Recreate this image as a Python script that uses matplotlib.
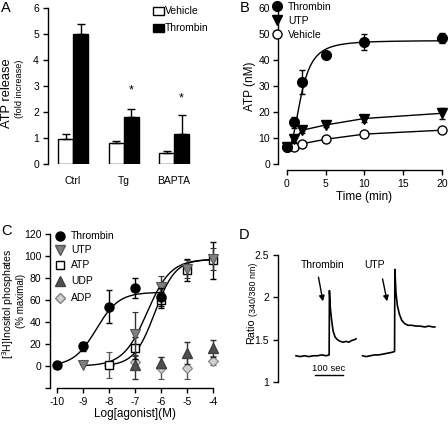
import numpy as np
import matplotlib
matplotlib.use("Agg")
import matplotlib.pyplot as plt
from matplotlib.patches import Rectangle

plt.rcParams['font.family'] = ['Liberation Sans', 'DejaVu Sans']
plt.rcParams['axes.linewidth'] = 1.0
plt.rcParams['axes.unicode_minus'] = False

W, H = 448, 424
fig = plt.figure(figsize=(W / 100, H / 100), dpi=100)


def ax_px(x0, x1, ytop, ybot):
    return fig.add_axes([x0 / W, 1 - ybot / H, (x1 - x0) / W, (ybot - ytop) / H])


def fx(x):
    return x / W


def fy(y):
    return 1 - y / H


TICK_FS = 7.5
LAB_FS = 8.5

# ---------------- Panel A data ----------------
a_groups = ["Ctrl", "Tg", "BAPTA"]
a_vehicle = [0.93, 0.78, 0.40]
a_vehicle_err = [0.22, 0.08, 0.08]
a_thrombin = [5.0, 1.78, 1.15]
a_thrombin_err = [0.40, 0.32, 0.72]
a_star_y = [None, 2.8, 2.5]

# ---------------- Panel B data ----------------
b_time = [0, 1, 2, 5, 10, 20]
b_thrombin = [6.5, 16.0, 31.5, 42.0, 47.0, 48.5]
b_thrombin_err = [0.5, 2.0, 4.5, 0.8, 3.0, 2.0]
b_utp = [6.5, 9.5, 13.0, 15.0, 17.5, 19.5]
b_utp_err = [0.5, 1.0, 1.0, 0.8, 1.5, 2.0]
b_vehicle = [6.5, 6.5, 7.8, 9.5, 11.5, 13.0]
b_vehicle_err = [0.3, 0.3, 0.3, 0.3, 0.5, 0.5]
# fitted curve parameters (Hill) for thrombin
b_fit_bottom, b_fit_top, b_fit_t50, b_fit_n = 6.0, 47.5, 1.9, 2.5

# ---------------- Panel C data ----------------
c_thr_x = [-10, -9, -8, -7, -6]
c_thr_y = [1, 18, 54, 71, 63]
c_thr_e = [1, 4, 15, 9, 8]
c_utp_x = [-9, -7, -6, -5, -4]
c_utp_y = [1, 29, 72, 88, 97]
c_utp_e = [0.5, 20, 10, 8, 10]
c_atp_x = [-8, -7, -6, -5, -4]
c_atp_y = [1, 16, 60, 87, 96]
c_atp_e = [3, 10, 7, 10, 17]
c_udp_x = [-7, -6, -5, -4]
c_udp_y = [1, 3, 12, 16]
c_udp_e = [13, 5, 10, 8]
c_adp_x = [-8, -7, -6, -5, -4]
c_adp_y = [1, 4, -2, -2, 5]
c_adp_e = [12, 6, 10, 10, 4]
# fitted sigmoid parameters (bottom, top, logEC50, hill, x range)
c_fit_thr = (0, 67, -8.5, 1.0, -10, -6)
c_fit_utp = (0, 97, -6.55, 0.95, -9, -4)
c_fit_atp = (0, 97, -6.25, 1.1, -8, -4)

# ---------------- Panel D data ----------------
d_thr_t = [0, 15, 30, 45, 60, 75, 90, 105, 116, 117, 120, 125, 130, 137, 145, 155, 165, 175, 185, 195, 205, 210]
d_thr_r = [1.31, 1.30, 1.31, 1.30, 1.31, 1.31, 1.32, 1.31, 1.32, 2.08, 1.88, 1.72, 1.60, 1.53, 1.50, 1.48, 1.47, 1.48, 1.47, 1.49, 1.50, 1.51]
d_utp_t = [233, 245, 260, 275, 290, 305, 320, 335, 345, 346, 350, 355, 362, 370, 380, 392, 405, 420, 435, 450, 465, 480, 486]
d_utp_r = [1.31, 1.30, 1.31, 1.32, 1.32, 1.33, 1.34, 1.35, 1.36, 2.33, 2.05, 1.90, 1.80, 1.73, 1.69, 1.67, 1.67, 1.66, 1.66, 1.65, 1.66, 1.65, 1.65]

# ================= Panel A =================
axA = ax_px(48, 200, 8, 163.5)
xpx = 50.5
bw = 15 / xpx
xs = np.arange(len(a_groups))
ekA = dict(ecolor='black', capsize=3, elinewidth=1.0, capthick=1.0)
axA.bar(xs - bw / 2, a_vehicle, bw, color='white', edgecolor='black', linewidth=1.0,
        yerr=[np.zeros(3), a_vehicle_err], error_kw=ekA)
axA.bar(xs + bw / 2, a_thrombin, bw, color='black', edgecolor='black', linewidth=1.0,
        yerr=[np.zeros(3), a_thrombin_err], error_kw=ekA)
for i, s in enumerate(a_star_y):
    if s is not None:
        axA.text(xs[i] + bw / 2, s, '*', ha='center', va='center', fontsize=9)
axA.set_xlim((48 - 73) / xpx, (200 - 73) / xpx)
axA.set_ylim(0, 6)
axA.set_yticks(range(0, 7))
axA.set_xticks(xs)
axA.set_xticklabels(a_groups, fontsize=TICK_FS)
axA.tick_params(axis='x', length=0, pad=9)
axA.tick_params(axis='y', labelsize=TICK_FS, length=3.5, width=1.0, pad=3)
for s in ['top', 'right', 'bottom']:
    axA.spines[s].set_visible(False)
# legend A (manual)
for yy, fc, lab in [(11, 'white', 'Vehicle'), (28, 'black', 'Thrombin')]:
    fig.patches.append(Rectangle((fx(152.5), fy(yy + 4)), 11 / W, 8 / H, facecolor=fc, edgecolor='black',
                                 lw=1.0, transform=fig.transFigure))
    fig.text(fx(165), fy(yy), lab, fontsize=TICK_FS, ha='left', va='center')
fig.text(fx(7.5), fy(93), 'ATP release', rotation=90, ha='center', va='center', fontsize=9.3)
fig.text(fx(19.5), fy(89), '(fold increase)', rotation=90, ha='center', va='center', fontsize=6.6)
fig.text(fx(1), fy(8), 'A', fontsize=10.5, ha='left', va='center')

# ================= Panel B =================
axB = ax_px(286.7, 442, 8, 164)
axB.set_xlim(0, 20)
axB.set_ylim(0, 60)
tt = np.linspace(0, 20, 300)
fit_b = b_fit_bottom + (b_fit_top - b_fit_bottom) * tt ** b_fit_n / (b_fit_t50 ** b_fit_n + tt ** b_fit_n)
axB.plot(tt, fit_b, color='black', lw=1.0, clip_on=False)
axB.plot(b_time, b_utp, color='black', lw=1.0, clip_on=False)
axB.plot(b_time, b_vehicle, color='black', lw=1.0, clip_on=False)
ekw = dict(capsize=2.5, elinewidth=1.0, capthick=1.0, ecolor='black', ls='none', clip_on=False)
axB.errorbar(b_time, b_vehicle, yerr=b_vehicle_err, marker='o', ms=6.5, mfc='white', mec='black', mew=1.0, zorder=3, **ekw)
axB.errorbar(b_time, b_utp, yerr=b_utp_err, marker='v', ms=6.5, mfc='black', mec='black', zorder=4, **ekw)
axB.errorbar(b_time, b_thrombin, yerr=b_thrombin_err, marker='o', ms=7, mfc='black', mec='black', zorder=5, **ekw)
axB.set_xticks([0, 5, 10, 15, 20])
axB.set_yticks(range(0, 61, 10))
axB.tick_params(labelsize=TICK_FS, length=3.5, width=1.0, pad=2.5)
for s in ['top', 'right']:
    axB.spines[s].set_visible(False)
axB.spines['left'].set_position(('outward', 6))
axB.spines['bottom'].set_position(('outward', 4.5))
axB.set_xlabel('Time (min)', fontsize=LAB_FS, labelpad=1.5)
axB.set_ylabel('ATP (nM)', fontsize=LAB_FS, labelpad=2)
# legend B
lx = 277
for yy, mk, fc, lab, ms in [(6, 'o', 'black', 'Thrombin', 7), (20, 'v', 'black', 'UTP', 6.5), (34, 'o', 'white', 'Vehicle', 6.5)]:
    fig.lines.append(plt.Line2D([fx(lx)], [fy(yy)], marker=mk, ms=ms, mfc=fc, mec='black', mew=1.0,
                                ls='none', transform=fig.transFigure))
    fig.text(fx(lx + 11), fy(yy + 0.5), lab, fontsize=TICK_FS, ha='left', va='center')
fig.text(fx(240), fy(8), 'B', fontsize=10.5, ha='left', va='center')

# ================= Panel C =================
axC = ax_px(57.3, 213.3, 234, 366 + 20 * (132 / 120))
axC.set_xlim(-10, -4)
axC.set_ylim(-20, 120)


def sig(p):
    b, t, ec, h, x0, x1 = p
    x = np.linspace(x0, x1, 300)
    return x, b + (t - b) / (1 + 10 ** ((ec - x) * h))


for p in [c_fit_thr, c_fit_utp, c_fit_atp]:
    x, y = sig(p)
    axC.plot(x, y, color='black', lw=1.0, clip_on=False, zorder=2)
ekc = dict(capsize=2.5, elinewidth=1.0, capthick=1.0, ls='none', clip_on=False)
axC.errorbar(c_adp_x, c_adp_y, yerr=c_adp_e, marker='D', ms=5.5, mfc='#d0d0d0', mec='#808080', mew=0.8, ecolor='#555555', zorder=3, **ekc)
axC.errorbar(c_udp_x, c_udp_y, yerr=c_udp_e, marker='^', ms=6.5, mfc='#505050', mec='#404040', ecolor='#333333', zorder=4, **ekc)
axC.errorbar(c_atp_x, c_atp_y, yerr=c_atp_e, marker='s', ms=6, mfc='white', mec='black', mew=1.0, ecolor='black', zorder=5, **ekc)
axC.errorbar(c_utp_x, c_utp_y, yerr=c_utp_e, marker='v', ms=6.5, mfc='#808080', mec='#555555', mew=0.8, ecolor='#333333', zorder=6, **ekc)
axC.errorbar(c_thr_x, c_thr_y, yerr=c_thr_e, marker='o', ms=6.5, mfc='black', mec='black', ecolor='black', zorder=7, **ekc)
axC.set_xticks(range(-10, -3))
axC.set_yticks(range(-20, 121, 20))
axC.set_yticklabels([''] + [str(v) for v in range(0, 121, 20)])
axC.tick_params(labelsize=TICK_FS, length=3.5, width=1.0, pad=3)
for s in ['top', 'right']:
    axC.spines[s].set_visible(False)
axC.spines['left'].set_position(('outward', 5.0))
axC.set_xlabel('Log[agonist](M)', fontsize=LAB_FS, labelpad=1)
fig.text(fx(8.5), fy(304), '[$^3$H]Inositol phosphates', rotation=90, ha='center', va='center', fontsize=7.6)
fig.text(fx(21), fy(301), '(% maximal)', rotation=90, ha='center', va='center', fontsize=7.0)
lxc = 60
for yy, mk, fc, ec, lab, ms in [(236, 'o', 'black', 'black', 'Thrombin', 6.5), (250, 'v', '#808080', '#555555', 'UTP', 6.5),
                                (265, 's', 'white', 'black', 'ATP', 6), (281, '^', '#505050', '#404040', 'UDP', 6.5),
                                (298, 'D', '#d0d0d0', '#808080', 'ADP', 5.5)]:
    fig.lines.append(plt.Line2D([fx(lxc)], [fy(yy)], marker=mk, ms=ms, mfc=fc, mec=ec, mew=1.0,
                                ls='none', transform=fig.transFigure))
    fig.text(fx(lxc + 11), fy(yy), lab, fontsize=TICK_FS, ha='left', va='center')
fig.text(fx(1.5), fy(231), 'C', fontsize=10.5, ha='left', va='center')

# ================= Panel D =================
axD = ax_px(278, 440, 255, 382)
pxs = 0.2857
axD.set_xlim(-(296 - 278) / pxs, (440 - 296) / pxs)
axD.set_ylim(1, 2.5)
axD.plot(d_thr_t, d_thr_r, color='black', lw=1.2)
axD.plot(d_utp_t, d_utp_r, color='black', lw=1.2)
axD.plot([65, 165], [1.08, 1.08], color='black', lw=1.0, clip_on=False)
axD.text(115, 1.16, '100 sec', ha='center', va='center', fontsize=6.8)
axD.annotate('', xy=(96, 1.92), xytext=(77, 2.27),
             arrowprops=dict(arrowstyle='-|>', color='black', lw=1.0, mutation_scale=8))
axD.text(93, 2.38, 'Thrombin', ha='center', va='center', fontsize=TICK_FS)
axD.annotate('', xy=(321, 1.92), xytext=(301, 2.25),
             arrowprops=dict(arrowstyle='-|>', color='black', lw=1.0, mutation_scale=8))
axD.text(274, 2.38, 'UTP', ha='center', va='center', fontsize=TICK_FS)
axD.set_yticks([1, 1.5, 2, 2.5])
axD.set_yticklabels(['1', '1.5', '2', '2.5'])
axD.tick_params(axis='y', labelsize=TICK_FS, length=3.5, width=1.0, pad=3)
axD.set_xticks([])
for s in ['top', 'right', 'bottom']:
    axD.spines[s].set_visible(False)
fig.text(fx(254), fy(344), 'Ratio', rotation=90, rotation_mode='anchor', ha='left', va='baseline', fontsize=7.8)
fig.text(fx(256), fy(316), '(340/380 nm)', rotation=90, rotation_mode='anchor', ha='left', va='baseline', fontsize=6.4)
fig.text(fx(239), fy(235), 'D', fontsize=10.5, ha='left', va='center')

fig.savefig('out.png', dpi=100)
